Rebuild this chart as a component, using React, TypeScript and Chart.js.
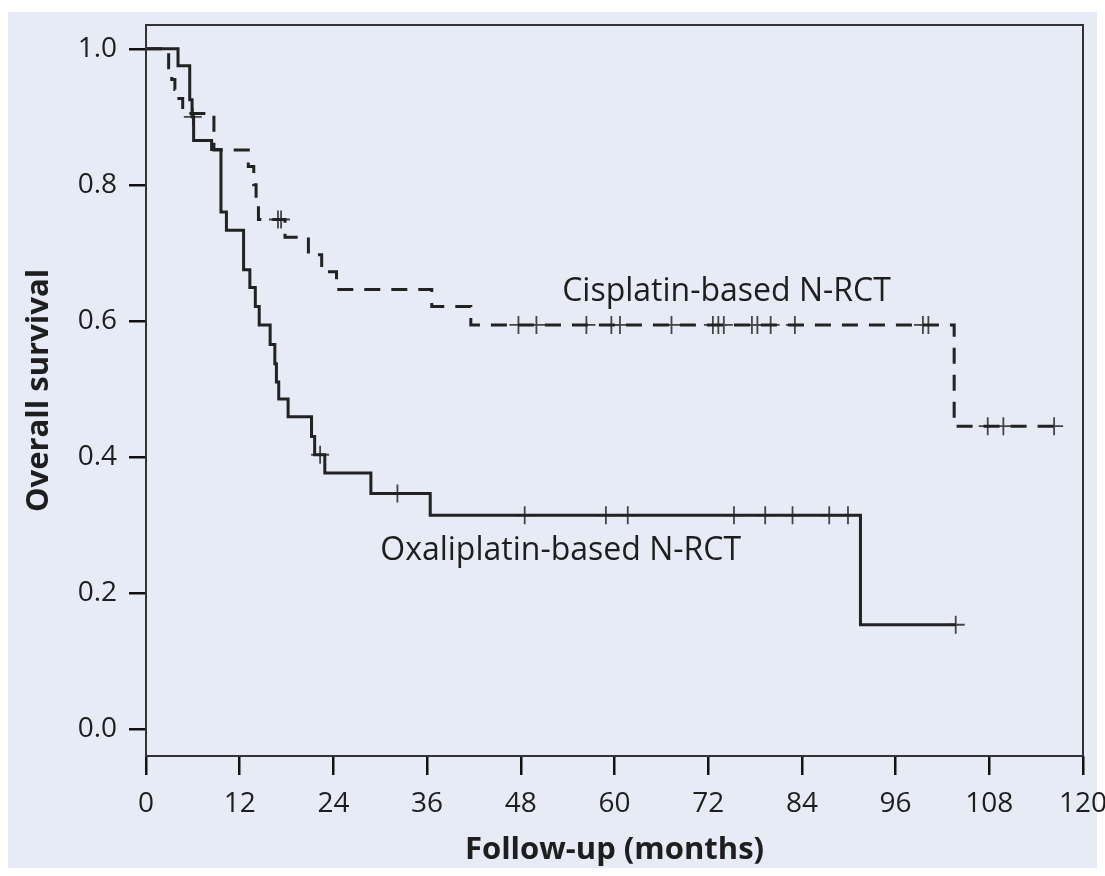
import React, { useEffect, useRef } from "react";
import { Chart, registerables } from "chart.js";

Chart.register(...registerables);

// ---- Data ----
const xTicks = [0, 12, 24, 36, 48, 60, 72, 84, 96, 108, 120];
const yTicks = [0, 0.2, 0.4, 0.6, 0.8, 1.0];

// Cisplatin-based N-RCT (dashed) Kaplan-Meier steps: time (months) -> survival after event
const cisTimes = [0, 2.9, 3.3, 3.7, 3.9, 4.7, 8.7, 13.1, 13.8, 14.1, 14.4, 17.8, 20.8, 22.5, 24.4, 36.6, 41.6, 103.5, 116.3];
const cisSurv = [1.0, 0.972, 0.955, 0.94, 0.927, 0.905, 0.851, 0.827, 0.8, 0.776, 0.749, 0.723, 0.697, 0.672, 0.646, 0.621, 0.594, 0.445, 0.445];
const cisCensor = [16.9, 17.3, 47.7, 50.0, 56.4, 59.6, 60.7, 67.3, 72.6, 73.3, 74.0, 77.6, 78.3, 80.0, 83.1, 99.5, 100.2, 107.8, 109.8, 116.3];

// Oxaliplatin-based N-RCT (solid)
const oxTimes = [0, 4.1, 5.6, 5.9, 6.1, 8.4, 9.6, 10.3, 12.5, 13.3, 14.0, 14.5, 15.9, 16.5, 16.7, 17.0, 18.2, 21.2, 21.6, 22.9, 28.8, 36.4, 91.5, 103.7];
const oxSurv = [1.0, 0.975, 0.925, 0.9, 0.865, 0.852, 0.76, 0.733, 0.675, 0.649, 0.621, 0.594, 0.565, 0.537, 0.51, 0.485, 0.459, 0.43, 0.403, 0.376, 0.346, 0.314, 0.153, 0.153];
const oxCensor = [6.0, 22.3, 32.2, 48.5, 58.9, 61.7, 75.3, 79.3, 82.8, 87.5, 89.9, 103.7];

const cisLabel = "Cisplatin-based N-RCT";
const oxLabel = "Oxaliplatin-based N-RCT";
const xTitle = "Follow-up (months)";
const yTitle = "Overall survival";

function survAt(times: number[], surv: number[], t: number) {
  let s = surv[0];
  for (let i = 0; i < times.length; i++) {
    if (times[i] <= t) s = surv[i];
  }
  return s;
}

const FONT = '"Open Sans", "Noto Sans", sans-serif';
const INK = "#1e1e1e";

const bgPlugin = {
  id: "bgPanel",
  beforeDraw(chart: any) {
    const { ctx, width, height } = chart;
    ctx.save();
    ctx.fillStyle = "#ffffff";
    ctx.fillRect(0, 0, width, height);
    ctx.fillStyle = "#e7ebf6";
    ctx.fillRect(8, 12, 1089, 856);
    ctx.restore();
  },
};

const framePlugin = {
  id: "frame",
  afterDraw(chart: any) {
    const { ctx, chartArea } = chart;
    ctx.save();
    ctx.strokeStyle = "#333333";
    ctx.lineWidth = 2;
    ctx.strokeRect(chartArea.left, chartArea.top, chartArea.right - chartArea.left, chartArea.bottom - chartArea.top);
    ctx.restore();
  },
};

const labelPlugin = {
  id: "curveLabels",
  afterDatasetsDraw(chart: any) {
    const { ctx, scales } = chart;
    const x = scales.x;
    const y = scales.y;
    ctx.save();
    ctx.fillStyle = INK;
    ctx.font = `32px ${FONT}`;
    ctx.textBaseline = "middle";
    ctx.textAlign = "left";
    ctx.fillText(cisLabel, x.getPixelForValue(53.3), y.getPixelForValue(0.643));
    ctx.fillText(oxLabel, x.getPixelForValue(30.0), y.getPixelForValue(0.262));
    ctx.restore();
  },
};

export default function App() {
  const ref = useRef<HTMLCanvasElement | null>(null);

  useEffect(() => {
    if (!ref.current) return;
    const cisLine = cisTimes.map((t, i) => ({ x: t, y: cisSurv[i] }));
    const oxLine = oxTimes.map((t, i) => ({ x: t, y: oxSurv[i] }));
    const cisMarks = cisCensor.map((t) => ({ x: t, y: survAt(cisTimes, cisSurv, t) }));
    const oxMarks = oxCensor.map((t) => ({ x: t, y: survAt(oxTimes, oxSurv, t) }));

    const chart = new Chart(ref.current, {
      type: "scatter",
      data: {
        datasets: [
          {
            label: cisLabel,
            data: cisLine,
            showLine: true,
            stepped: "before",
            borderColor: "#222222",
            borderWidth: 3,
            borderDash: [16, 11],
            pointRadius: 0,
            fill: false,
          },
          {
            label: oxLabel,
            data: oxLine,
            showLine: true,
            stepped: "before",
            borderColor: "#222222",
            borderWidth: 3,
            pointRadius: 0,
            fill: false,
          },
          {
            label: "cis censored",
            data: cisMarks,
            showLine: false,
            pointStyle: "cross",
            pointRadius: 9,
            pointBorderWidth: 1.8,
            pointBorderColor: "#444444",
          },
          {
            label: "ox censored",
            data: oxMarks,
            showLine: false,
            pointStyle: "cross",
            pointRadius: 9,
            pointBorderWidth: 1.8,
            pointBorderColor: "#444444",
          },
        ],
      } as any,
      options: {
        responsive: false,
        animation: false,
        devicePixelRatio: 1,
        layout: { padding: { left: 0, top: 25, right: 22, bottom: 0 } },
        plugins: {
          legend: { display: false },
          tooltip: { enabled: false },
        },
        scales: {
          x: {
            type: "linear",
            min: 0,
            max: 120,
            afterBuildTicks: (scale: any) => {
              scale.ticks = xTicks.map((v) => ({ value: v }));
            },
            afterFit: (scale: any) => {
              scale.height = 120;
              scale.paddingLeft = 0;
              scale.paddingRight = 0;
            },
            grid: {
              drawOnChartArea: false,
              drawTicks: true,
              tickLength: 19,
              color: "#111111",
              lineWidth: 2.5,
            },
            border: { display: false },
            ticks: {
              color: INK,
              font: { family: FONT, size: 28 },
              padding: 12,
              maxRotation: 0,
              autoSkip: false,
            },
            title: {
              display: true,
              text: xTitle,
              color: INK,
              font: { family: FONT, size: 31, weight: "bold" },
              padding: { top: 0, bottom: 7 },
            },
          },
          y: {
            type: "linear",
            min: -0.04,
            max: 1.035,
            afterBuildTicks: (scale: any) => {
              scale.ticks = yTicks.map((v) => ({ value: v }));
            },
            afterFit: (scale: any) => {
              scale.width = 146;
              scale.paddingTop = 0;
              scale.paddingBottom = 0;
            },
            grid: {
              drawOnChartArea: false,
              drawTicks: true,
              tickLength: 17,
              color: "#111111",
              lineWidth: 2.5,
            },
            border: { display: false },
            ticks: {
              color: INK,
              font: { family: FONT, size: 28 },
              padding: 12,
              callback: (v: any) => Number(v).toFixed(1),
            },
            title: {
              display: true,
              text: yTitle,
              color: INK,
              font: { family: FONT, size: 31, weight: "bold" },
              padding: { top: 21, bottom: 0 },
            },
          },
        },
      } as any,
      plugins: [bgPlugin, framePlugin, labelPlugin],
    });
    return () => chart.destroy();
  }, []);

  return (
    <div style={{ position: "fixed", left: 0, top: 0, width: 1105, height: 876 }}>
      <canvas ref={ref} width={1105} height={876} style={{ width: 1105, height: 876, display: "block" }} />
    </div>
  );
}
